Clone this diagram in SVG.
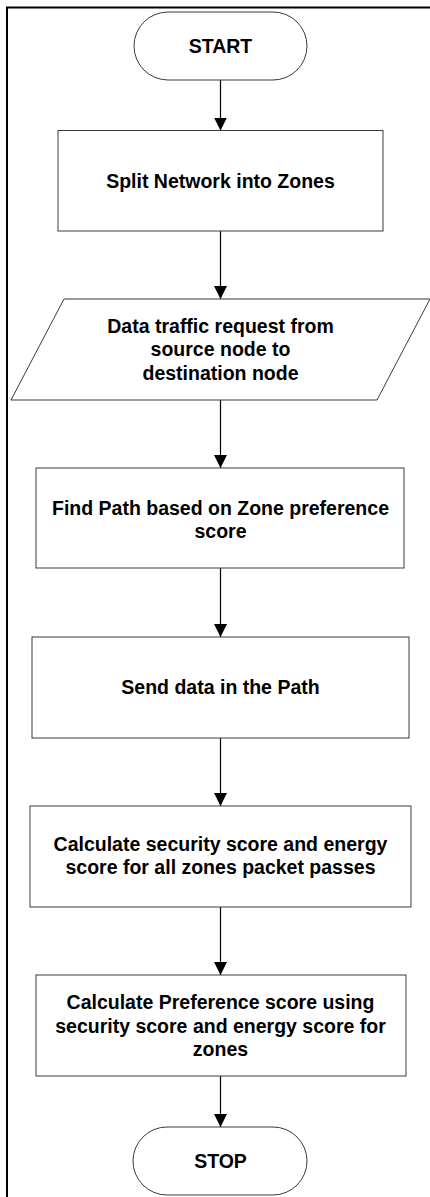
<svg xmlns="http://www.w3.org/2000/svg" width="430" height="1197" viewBox="0 0 430 1197">
<style>
.shape{fill:#fff;stroke:#3a3a3a;stroke-width:1}
.conn{fill:none;stroke:#000;stroke-width:1.2}
text{font-family:"Liberation Sans",Arial,sans-serif;font-weight:bold;font-size:19.5px;fill:#000;text-anchor:middle}
</style>
<defs>
<marker id="arr" markerWidth="13" markerHeight="13" refX="13" refY="6.5" orient="auto" markerUnits="userSpaceOnUse">
<path d="M0,0 L13,6.5 L0,13 Z" fill="#000"/>
</marker>
</defs>
<rect width="430" height="1197" fill="#fff"/>
<path d="M7,1197 V7.5 H430" fill="none" stroke="#000" stroke-width="2"/>
<g id="connectors">
<line class="conn" x1="220.5" y1="80" x2="220.5" y2="130.5" marker-end="url(#arr)"/>
<line class="conn" x1="220.5" y1="231" x2="220.5" y2="299" marker-end="url(#arr)"/>
<line class="conn" x1="220.5" y1="400" x2="220.5" y2="468" marker-end="url(#arr)"/>
<line class="conn" x1="220.5" y1="568" x2="220.5" y2="637" marker-end="url(#arr)"/>
<line class="conn" x1="220.5" y1="738" x2="220.5" y2="806" marker-end="url(#arr)"/>
<line class="conn" x1="220.5" y1="907" x2="220.5" y2="975" marker-end="url(#arr)"/>
<line class="conn" x1="220.5" y1="1076" x2="220.5" y2="1127" marker-end="url(#arr)"/>
</g>
<g id="start">
<rect class="shape" x="134" y="12" width="173" height="68" rx="34" ry="34"/>
<text x="220.5" y="52.5">START</text>
</g>
<g id="split">
<rect class="shape" x="58" y="130.5" width="325" height="100.5"/>
<text x="220.5" y="188">Split Network into Zones</text>
</g>
<g id="request">
<polygon class="shape" points="64,299 430,299 377,400 11,400"/>
<text x="220.5" y="332.5">Data traffic request from</text>
<text x="220.5" y="356">source node to</text>
<text x="220.5" y="379.5">destination node</text>
</g>
<g id="findpath">
<rect class="shape" x="36" y="468" width="368" height="100"/>
<text x="220.5" y="514.5">Find Path based on Zone preference</text>
<text x="220.5" y="538">score</text>
</g>
<g id="send">
<rect class="shape" x="32" y="637" width="377" height="101"/>
<text x="220.5" y="694">Send data in the Path</text>
</g>
<g id="calcsec">
<rect class="shape" x="30" y="806" width="381" height="101"/>
<text x="220.5" y="851">Calculate security score and energy</text>
<text x="220.5" y="874">score for all zones packet passes</text>
</g>
<g id="calcpref">
<rect class="shape" x="36" y="975" width="370" height="101"/>
<text x="220.5" y="1009">Calculate Preference score using</text>
<text x="220.5" y="1032.5">security score and energy score for</text>
<text x="220.5" y="1056">zones</text>
</g>
<g id="stop">
<rect class="shape" x="133" y="1127" width="174" height="68" rx="34" ry="34"/>
<text x="220.5" y="1167.5">STOP</text>
</g>
</svg>
